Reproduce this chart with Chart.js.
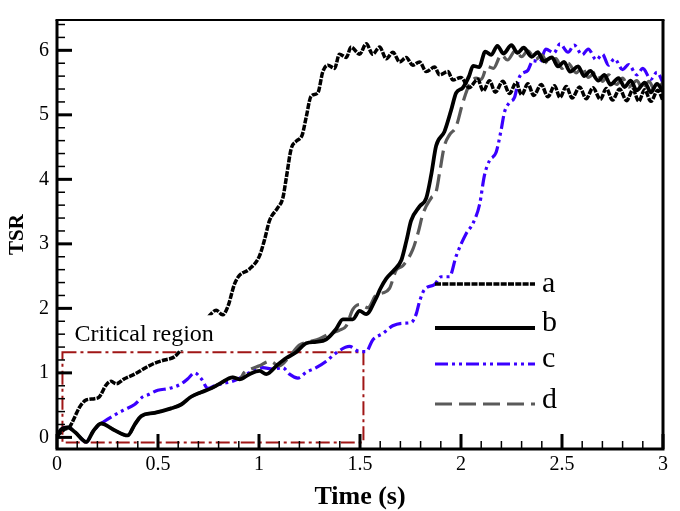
<!DOCTYPE html>
<html>
<head>
<meta charset="utf-8">
<script src="https://cdn.jsdelivr.net/npm/chart.js@4.4.1/dist/chart.umd.min.js"></script>
<style>
  html, body { margin: 0; padding: 0; background: #fff; }
  canvas { display: block; }
</style>
</head>
<body>
<canvas id="tsrChart" width="680" height="511"></canvas>
<script>
const seriesLabels = ["a", "b", "c", "d"];
const xTicks = [0, 0.5, 1, 1.5, 2, 2.5, 3];
const yTicks = [0, 1, 2, 3, 4, 5, 6];

// critical region box (time, TSR) and its caption anchor
const regionTime = [0.027, 1.517];
const regionTsr = [-0.08, 1.32];
const regionLabel = "Critical region";
const regionLabelAt = [0.087, 1.49];

// [time (s), TSR]
const seriesA = [
  [0, 0.02], [0.02, 0.08], [0.04, 0.13], [0.062, 0.16], [0.09, 0.33], [0.11, 0.46],
  [0.145, 0.58], [0.186, 0.6], [0.21, 0.63], [0.243, 0.81], [0.268, 0.87], [0.293, 0.83],
  [0.334, 0.91], [0.384, 0.98], [0.433, 1.07], [0.483, 1.15], [0.532, 1.2], [0.582, 1.25],
  [0.615, 1.36], [0.66, 1.5], [0.7, 1.68], [0.747, 1.86], [0.788, 1.97], [0.82, 1.9],
  [0.846, 2.03], [0.879, 2.38], [0.903, 2.51], [0.953, 2.61], [1.002, 2.81], [1.027, 3.06],
  [1.052, 3.36], [1.093, 3.56], [1.118, 3.71], [1.135, 4.02], [1.159, 4.47], [1.184, 4.59],
  [1.214, 4.69], [1.234, 4.97], [1.258, 5.29], [1.291, 5.34], [1.316, 5.67], [1.341, 5.77],
  [1.374, 5.72], [1.398, 5.94], [1.432, 5.89], [1.456, 6.05], [1.498, 5.94], [1.531, 6.1],
  [1.563, 5.94], [1.597, 6.05], [1.63, 5.87], [1.663, 5.97], [1.696, 5.82], [1.729, 5.89],
  [1.761, 5.77], [1.795, 5.82], [1.828, 5.67], [1.869, 5.74], [1.894, 5.62], [1.935, 5.67],
  [1.96, 5.54], [2.0, 5.58], [2.04, 5.42], [2.083, 5.55], [2.11, 5.37], [2.141, 5.53],
  [2.17, 5.35], [2.207, 5.52], [2.24, 5.33], [2.273, 5.5], [2.3, 5.31], [2.331, 5.48],
  [2.36, 5.3], [2.397, 5.47], [2.43, 5.28], [2.463, 5.45], [2.49, 5.27], [2.521, 5.44],
  [2.55, 5.26], [2.587, 5.43], [2.62, 5.25], [2.653, 5.42], [2.69, 5.24], [2.719, 5.41],
  [2.75, 5.23], [2.785, 5.4], [2.82, 5.22], [2.851, 5.39], [2.88, 5.21], [2.909, 5.39],
  [2.94, 5.21], [2.974, 5.38], [3.0, 5.22]
];

const seriesB = [
  [0, 0.02], [0.02, 0.12], [0.053, 0.155], [0.09, 0.08], [0.145, -0.07], [0.18, 0.1],
  [0.219, 0.215], [0.28, 0.12], [0.35, 0.03], [0.385, 0.2], [0.417, 0.33], [0.483, 0.38],
  [0.565, 0.45], [0.615, 0.51], [0.664, 0.63], [0.714, 0.7], [0.763, 0.76], [0.804, 0.83],
  [0.87, 0.93], [0.903, 0.9], [0.953, 0.98], [1.002, 1.03], [1.036, 0.98], [1.093, 1.13],
  [1.135, 1.23], [1.184, 1.32], [1.234, 1.46], [1.283, 1.48], [1.333, 1.52], [1.382, 1.68],
  [1.415, 1.83], [1.464, 1.83], [1.498, 1.96], [1.53, 1.91], [1.58, 2.16], [1.6, 2.3],
  [1.63, 2.46], [1.665, 2.58], [1.705, 2.75], [1.73, 3.05], [1.753, 3.36], [1.795, 3.58],
  [1.828, 3.71], [1.852, 4.06], [1.877, 4.52], [1.918, 4.74], [1.951, 5.07], [1.976, 5.34],
  [2.009, 5.42], [2.04, 5.6], [2.06, 5.76], [2.09, 5.74], [2.12, 5.98], [2.15, 5.93],
  [2.18, 6.07], [2.21, 5.95], [2.25, 6.08], [2.28, 5.96], [2.31, 6.04], [2.35, 5.9],
  [2.38, 5.97], [2.41, 5.83], [2.45, 5.89], [2.48, 5.75], [2.51, 5.82], [2.54, 5.67],
  [2.58, 5.75], [2.61, 5.6], [2.64, 5.68], [2.68, 5.53], [2.71, 5.62], [2.74, 5.47],
  [2.78, 5.57], [2.81, 5.43], [2.84, 5.53], [2.87, 5.38], [2.91, 5.5], [2.94, 5.35],
  [2.97, 5.48], [3.0, 5.36]
];

const seriesC = [
  [0, 0.02], [0.02, 0.12], [0.053, 0.155], [0.09, 0.08], [0.145, -0.07], [0.18, 0.1],
  [0.219, 0.215], [0.276, 0.33], [0.334, 0.43], [0.384, 0.51], [0.425, 0.63], [0.45, 0.66],
  [0.499, 0.73], [0.557, 0.76], [0.615, 0.83], [0.648, 0.91], [0.681, 1.0], [0.714, 0.91],
  [0.747, 0.76], [0.78, 0.8], [0.813, 0.83], [0.879, 0.88], [0.928, 0.96], [0.969, 1.03],
  [1.019, 1.08], [1.068, 1.06], [1.118, 1.08], [1.151, 0.98], [1.192, 0.92], [1.234, 1.01],
  [1.283, 1.08], [1.333, 1.18], [1.382, 1.31], [1.448, 1.41], [1.498, 1.33], [1.53, 1.33],
  [1.563, 1.51], [1.613, 1.61], [1.662, 1.73], [1.712, 1.77], [1.753, 1.78], [1.778, 1.91],
  [1.795, 2.11], [1.819, 2.29], [1.869, 2.37], [1.902, 2.49], [1.943, 2.49], [1.976, 2.81],
  [2.026, 3.16], [2.058, 3.31], [2.092, 3.61], [2.116, 4.06], [2.141, 4.29], [2.174, 4.42],
  [2.199, 4.77], [2.215, 5.04], [2.24, 5.19], [2.265, 5.27], [2.29, 5.59], [2.331, 5.69],
  [2.356, 5.84], [2.39, 5.82], [2.42, 6.02], [2.46, 5.96], [2.49, 6.1], [2.53, 5.97],
  [2.56, 6.08], [2.6, 5.93], [2.63, 6.02], [2.67, 5.85], [2.7, 5.94], [2.73, 5.77],
  [2.76, 5.87], [2.8, 5.7], [2.83, 5.78], [2.87, 5.62], [2.9, 5.72], [2.94, 5.55],
  [2.97, 5.66], [3.0, 5.5]
];

const seriesD = [
  [0, 0.02], [0.02, 0.12], [0.053, 0.155], [0.09, 0.08], [0.145, -0.07], [0.18, 0.1],
  [0.219, 0.215], [0.28, 0.12], [0.35, 0.03], [0.385, 0.2], [0.417, 0.33], [0.483, 0.38],
  [0.565, 0.45], [0.615, 0.51], [0.664, 0.63], [0.714, 0.7], [0.763, 0.76], [0.804, 0.83],
  [0.87, 0.93], [0.903, 0.9], [0.928, 1.01], [0.96, 1.06], [1.002, 1.11], [1.052, 1.18],
  [1.101, 1.11], [1.15, 1.25], [1.2, 1.43], [1.25, 1.48], [1.3, 1.53], [1.349, 1.61],
  [1.398, 1.66], [1.432, 1.73], [1.464, 1.98], [1.498, 2.06], [1.539, 2.01], [1.58, 2.21],
  [1.613, 2.24], [1.646, 2.31], [1.679, 2.59], [1.712, 2.66], [1.761, 2.91], [1.79, 3.2],
  [1.811, 3.46], [1.852, 3.71], [1.877, 3.81], [1.894, 4.1], [1.918, 4.52], [1.943, 4.69],
  [1.976, 4.82], [2.009, 5.19], [2.042, 5.47], [2.075, 5.57], [2.1, 5.55], [2.13, 5.75],
  [2.16, 5.72], [2.2, 5.93], [2.23, 5.85], [2.27, 6.0], [2.3, 5.9], [2.33, 5.99],
  [2.37, 5.86], [2.4, 5.93], [2.43, 5.79], [2.47, 5.87], [2.5, 5.72], [2.53, 5.8],
  [2.57, 5.65], [2.6, 5.73], [2.63, 5.58], [2.67, 5.67], [2.7, 5.52], [2.73, 5.62],
  [2.77, 5.47], [2.8, 5.57], [2.83, 5.43], [2.87, 5.53], [2.9, 5.4], [2.93, 5.52],
  [2.96, 5.38], [3.0, 5.5]
];

const SERIF = "'Liberation Serif', 'Times New Roman', serif";
Chart.defaults.font.family = SERIF;
Chart.defaults.color = "#000";

function toPoints(pairs) {
  return pairs.map(p => ({ x: p[0], y: p[1] }));
}

function lineSet(label, pairs, color, width, dash, order) {
  return {
    label: label,
    data: toPoints(pairs),
    borderColor: color,
    backgroundColor: color,
    borderWidth: width,
    borderDash: dash,
    borderCapStyle: "butt",
    pointRadius: 0,
    fill: false,
    cubicInterpolationMode: "monotone",
    order: order,
  };
}

// inward ticks, frame, critical region, caption, legend
const decorPlugin = {
  id: "decor",
  beforeDatasetsDraw(chart) {
    const { ctx, scales: { x, y } } = chart;
    const x0 = x.getPixelForValue(regionTime[0]);
    const x1 = x.getPixelForValue(regionTime[1]);
    const yb = y.getPixelForValue(regionTsr[0]);
    const yt = y.getPixelForValue(regionTsr[1]);
    ctx.save();
    ctx.strokeStyle = "rgb(160,22,22)";
    ctx.lineWidth = 2;
    ctx.setLineDash([14, 4, 3, 4]);
    ctx.strokeRect(x0, yt, x1 - x0, yb - yt);
    ctx.restore();
  },
  afterDatasetsDraw(chart) {
    const { ctx, scales: { x, y } } = chart;
    const tx = x.getPixelForValue(regionLabelAt[0]);
    const ty = y.getPixelForValue(regionLabelAt[1]);
    ctx.save();
    ctx.font = "24px " + SERIF;
    const w = ctx.measureText(regionLabel).width;
    ctx.fillStyle = "#fff";
    ctx.fillRect(tx - 4, ty - 26, w + 8, 35);
    ctx.fillStyle = "#000";
    ctx.textBaseline = "alphabetic";
    ctx.fillText(regionLabel, tx, ty);
    ctx.restore();
  },
  afterDraw(chart) {
    const { ctx, chartArea: a, scales: { x, y } } = chart;
    ctx.save();
    ctx.strokeStyle = "#000";
    ctx.setLineDash([]);

    // minor ticks
    ctx.lineWidth = 1.5;
    for (let i = 0; i <= 30; i++) {
      const px = x.getPixelForValue(i / 10);
      ctx.beginPath(); ctx.moveTo(px, a.bottom); ctx.lineTo(px, a.bottom - 8); ctx.stroke();
    }
    for (let i = 0; i <= 32; i++) {
      const py = y.getPixelForValue(i / 5);
      ctx.beginPath(); ctx.moveTo(a.left, py); ctx.lineTo(a.left + 8, py); ctx.stroke();
    }
    // major ticks
    ctx.lineWidth = 3;
    xTicks.forEach(v => {
      const px = x.getPixelForValue(v);
      ctx.beginPath(); ctx.moveTo(px, a.bottom); ctx.lineTo(px, a.bottom - 15); ctx.stroke();
    });
    yTicks.forEach(v => {
      const py = y.getPixelForValue(v);
      ctx.beginPath(); ctx.moveTo(a.left, py); ctx.lineTo(a.left + 15, py); ctx.stroke();
    });

    // frame
    ctx.lineWidth = 3;
    ctx.beginPath();
    ctx.moveTo(a.left, a.top); ctx.lineTo(a.left, a.bottom);
    ctx.lineTo(a.right, a.bottom); ctx.lineTo(a.right, a.top);
    ctx.stroke();
    ctx.lineWidth = 2.2;
    ctx.beginPath(); ctx.moveTo(a.left - 1.5, a.top); ctx.lineTo(a.right + 1.5, a.top); ctx.stroke();

    // legend
    const lineY = [284, 328, 364, 404];
    const textY = [292, 331, 367, 408];
    ctx.font = "30px " + SERIF;
    ctx.textBaseline = "alphabetic";
    chart.data.datasets.forEach((ds, i) => {
      ctx.strokeStyle = ds.borderColor;
      ctx.lineWidth = ds.borderWidth;
      ctx.setLineDash(ds.borderDash || []);
      ctx.beginPath(); ctx.moveTo(435, lineY[i]); ctx.lineTo(535, lineY[i]); ctx.stroke();
      ctx.fillStyle = "#000";
      ctx.fillText(ds.label, 542, textY[i]);
    });
    ctx.restore();
  },
};

new Chart(document.getElementById("tsrChart").getContext("2d"), {
  type: "line",
  data: {
    datasets: [
      lineSet(seriesLabels[0], seriesA, "#000", 3.5, [6, 1.3], 0),
      lineSet(seriesLabels[1], seriesB, "#000", 3.8, [], 1),
      lineSet(seriesLabels[2], seriesC, "rgb(58,0,255)", 3.2, [13, 4, 3, 4, 3, 4], 3),
      lineSet(seriesLabels[3], seriesD, "#5a5a5a", 3.2, [17, 7], 2),
    ],
  },
  options: {
    responsive: false,
    animation: false,
    layout: { padding: { top: 7, right: 17, left: 0, bottom: 0 } },
    plugins: {
      legend: { display: false },
      tooltip: { enabled: false },
    },
    scales: {
      x: {
        type: "linear",
        min: 0,
        max: 3,
        afterBuildTicks: s => { s.ticks = xTicks.map(v => ({ value: v })); },
        afterFit: s => { s.height = 62; },
        grid: { display: false, drawTicks: false },
        border: { display: false },
        ticks: { padding: 4, maxRotation: 0, font: { size: 20 }, callback: v => String(v) },
        title: {
          display: true,
          text: "Time (s)",
          font: { size: 26, weight: "bold", lineHeight: 1 },
          padding: { top: 0, bottom: 1 },
        },
      },
      y: {
        type: "linear",
        min: -0.18,
        max: 6.47,
        afterBuildTicks: s => { s.ticks = yTicks.map(v => ({ value: v })); },
        afterFit: s => { s.width = 57; },
        grid: { display: false, drawTicks: false },
        border: { display: false },
        ticks: { padding: 8, font: { size: 20 }, callback: v => String(v) },
        title: {
          display: true,
          text: "TSR",
          font: { size: 21, weight: "bold", lineHeight: 1.2 },
          padding: { top: 5, bottom: 0 },
        },
      },
    },
  },
  plugins: [decorPlugin],
});
</script>
</body>
</html>
